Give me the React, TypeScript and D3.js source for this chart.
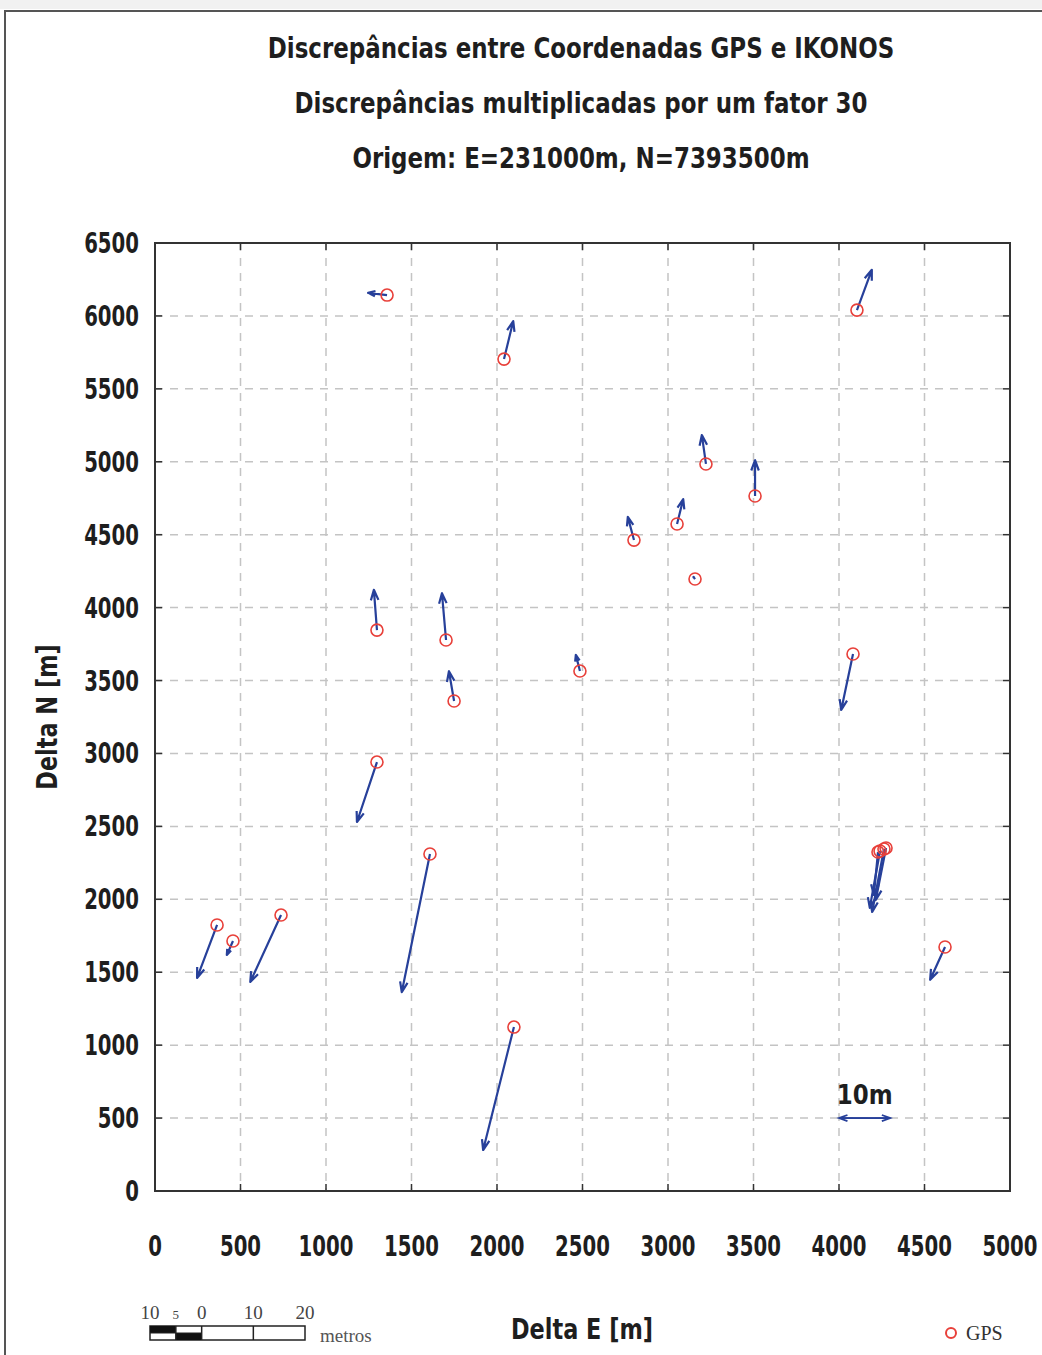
import * as d3 from "d3";

// GPS point positions (Delta E, Delta N in metres from origin)
const gpsE = [1357, 2041, 4105, 3222, 3509, 3053, 2801, 3158, 1298, 1702, 1749, 2485, 4082, 1298, 1608, 363, 456, 737, 2099, 4620, 4240, 4275, 4263, 4228];
const gpsN = [6143, 5704, 6040, 4985, 4765, 4573, 4463, 4196, 3846, 3778, 3360, 3565, 3682, 2941, 2311, 1824, 1714, 1892, 1124, 1673, 2331, 2352, 2345, 2324];
// discrepancies GPS - IKONOS in metres (drawn x30)
const discE = [-3.7, 1.8, 2.9, -0.8, 0.0, 1.2, -1.2, -0.3, -0.6, -0.8, -1.0, -0.8, -2.3, -3.9, -5.5, -3.9, -1.2, -6.0, -6.0, -2.9, -2.0, -2.0, -2.3, -0.8];
const discN = [0.5, 8.7, 9.2, 6.6, 8.2, 5.7, 5.3, 0.5, 9.2, 10.7, 6.8, 3.7, -12.8, -13.7, -31.6, -12.1, -3.2, -15.3, -28.1, -7.5, -13.0, -11.9, -14.4, -9.8];

const factor = 30;
const xTicks = [0, 500, 1000, 1500, 2000, 2500, 3000, 3500, 4000, 4500, 5000];
const yTicks = [0, 500, 1000, 1500, 2000, 2500, 3000, 3500, 4000, 4500, 5000, 5500, 6000, 6500];
const titles = [
  "Discrepâncias entre Coordenadas GPS e IKONOS",
  "Discrepâncias multiplicadas por um fator 30",
  "Origem: E=231000m, N=7393500m",
];
const scaleBarLabels = ["10", "5", "0", "10", "20"];
const scaleBarValues = [-10, -5, 0, 10, 20];

const W = 1042;
const H = 1355;
const left = 155, right = 1010, top = 243, bottom = 1191;

const sans = "'DejaVu Sans', sans-serif";
const arrowColor = "#27409a";

// narrow bold text: regular font squeezed horizontally
function Narrow({ x, y, size, sx, anchor = "middle", rotate = 0, weight = "bold", children }: any) {
  return (
    <text
      transform={`translate(${x},${y}) rotate(${rotate}) scale(${sx},1)`}
      textAnchor={anchor}
      fontFamily={sans}
      fontWeight={weight}
      fontSize={size}
      fill="#1e1e1e"
    >
      {children}
    </text>
  );
}

function arrowPath(x1: number, y1: number, x2: number, y2: number, headLen: number) {
  const ang = Math.atan2(y2 - y1, x2 - x1);
  const a = 0.35;
  const hx1 = x2 - headLen * Math.cos(ang - a);
  const hy1 = y2 - headLen * Math.sin(ang - a);
  const hx2 = x2 - headLen * Math.cos(ang + a);
  const hy2 = y2 - headLen * Math.sin(ang + a);
  return `M${x1},${y1}L${x2},${y2}M${hx1},${hy1}L${x2},${y2}L${hx2},${hy2}`;
}

export default function App() {
  const x = d3.scaleLinear().domain([0, 5000]).range([left, right]);
  const y = d3.scaleLinear().domain([0, 6500]).range([bottom, top]);

  const points = gpsE.map((e, i) => ({ e, n: gpsN[i], de: discE[i], dn: discN[i] }));

  // scale bar: metres on the ground -> px
  const sb = d3.scaleLinear().domain([-10, 20]).range([150, 305]);

  const refX1 = x(4000), refX2 = x(4000 + 10 * factor), refY = y(500);

  return (
    <svg width={W} height={H} style={{ position: "absolute", left: 0, top: 0, background: "#fff" }}>
      <rect x={0} y={0} width={W} height={9} fill="#f1f1f1" />
      <path d={`M5,${H}V11H${W}`} fill="none" stroke="#555" strokeWidth={2} />

      {titles.map((t, i) => (
        <Narrow key={i} x={581} y={58 + i * 55} size={28} sx={0.82} weight="600">
          {t}
        </Narrow>
      ))}

      {/* grid */}
      {xTicks.slice(1, -1).map((t) => (
        <line key={"gx" + t} x1={x(t)} x2={x(t)} y1={top} y2={bottom} stroke="#c4c4c4" strokeWidth={1.5} strokeDasharray="8,7" />
      ))}
      {yTicks.slice(1, -1).map((t) => (
        <line key={"gy" + t} x1={left} x2={right} y1={y(t)} y2={y(t)} stroke="#c4c4c4" strokeWidth={1.5} strokeDasharray="8,7" />
      ))}

      {/* ticks */}
      {xTicks.map((t) => (
        <g key={"tx" + t}>
          <line x1={x(t)} x2={x(t)} y1={bottom} y2={bottom - 7} stroke="#333" strokeWidth={1.5} />
          <line x1={x(t)} x2={x(t)} y1={top} y2={top + 7} stroke="#333" strokeWidth={1.5} />
          <Narrow x={x(t)} y={1256} size={29} sx={0.68}>
            {t}
          </Narrow>
        </g>
      ))}
      {yTicks.map((t) => (
        <g key={"ty" + t}>
          <line x1={left} x2={left + 7} y1={y(t)} y2={y(t)} stroke="#333" strokeWidth={1.5} />
          <line x1={right} x2={right - 7} y1={y(t)} y2={y(t)} stroke="#333" strokeWidth={1.5} />
          <Narrow x={139} y={y(t) + 10} size={29} sx={0.68} anchor="end">
            {t}
          </Narrow>
        </g>
      ))}
      <rect x={left} y={top} width={right - left} height={bottom - top} fill="none" stroke="#333" strokeWidth={2} />

      {/* arrows */}
      {points.map((p, i) => {
        const x1 = x(p.e), y1 = y(p.n);
        const x2 = x(p.e + p.de * factor), y2 = y(p.n + p.dn * factor);
        const len = Math.hypot(x2 - x1, y2 - y1);
        return (
          <path key={"a" + i} d={arrowPath(x1, y1, x2, y2, Math.min(11, len * 0.4))} fill="none" stroke={arrowColor} strokeWidth={2.2} strokeLinejoin="round" />
        );
      })}
      {points.map((p, i) => (
        <circle key={"c" + i} cx={x(p.e)} cy={y(p.n)} r={6} fill="none" stroke="#e8403a" strokeWidth={1.6} />
      ))}

      {/* 10 m reference */}
      <path d={arrowPath(refX1, refY, refX2, refY, 9)} fill="none" stroke={arrowColor} strokeWidth={1.8} />
      <path d={arrowPath(refX2, refY, refX1, refY, 9)} fill="none" stroke={arrowColor} strokeWidth={1.8} />
      <Narrow x={(refX1 + refX2) / 2} y={1104} size={27} sx={0.85}>
        10m
      </Narrow>

      {/* axis titles */}
      <Narrow x={582} y={1339} size={28} sx={0.8}>
        Delta E [m]
      </Narrow>
      <Narrow x={57} y={y(3250)} size={28} sx={0.8} rotate={-90}>
        Delta N [m]
      </Narrow>

      {/* graphic scale */}
      {scaleBarValues.map((v, i) => (
        <text key={"sb" + i} x={sb(v)} y={1319} textAnchor="middle" fontFamily="'Liberation Serif', serif" fontSize={i === 1 ? 13 : 19} fill="#444">
          {scaleBarLabels[i]}
        </text>
      ))}
      <rect x={sb(-10)} y={1326} width={sb(20) - sb(-10)} height={14} fill="#fff" stroke="#222" strokeWidth={1.5} />
      <rect x={sb(-10)} y={1326} width={sb(-5) - sb(-10)} height={7} fill="#111" />
      <rect x={sb(-5)} y={1333} width={sb(0) - sb(-5)} height={7} fill="#111" />
      <line x1={sb(-10)} x2={sb(0)} y1={1333} y2={1333} stroke="#222" strokeWidth={1} />
      {[-5, 0, 10].map((v) => (
        <line key={"sbl" + v} x1={sb(v)} x2={sb(v)} y1={1326} y2={1340} stroke="#222" strokeWidth={1.5} />
      ))}
      <text x={320} y={1342} fontFamily="'Liberation Serif', serif" fontSize={19} fill="#555">
        metros
      </text>

      {/* legend */}
      <circle cx={951} cy={1333} r={5} fill="none" stroke="#e8403a" strokeWidth={2} />
      <text x={966} y={1340} fontFamily="'Liberation Serif', serif" fontSize={20} fill="#333">
        GPS
      </text>
    </svg>
  );
}
